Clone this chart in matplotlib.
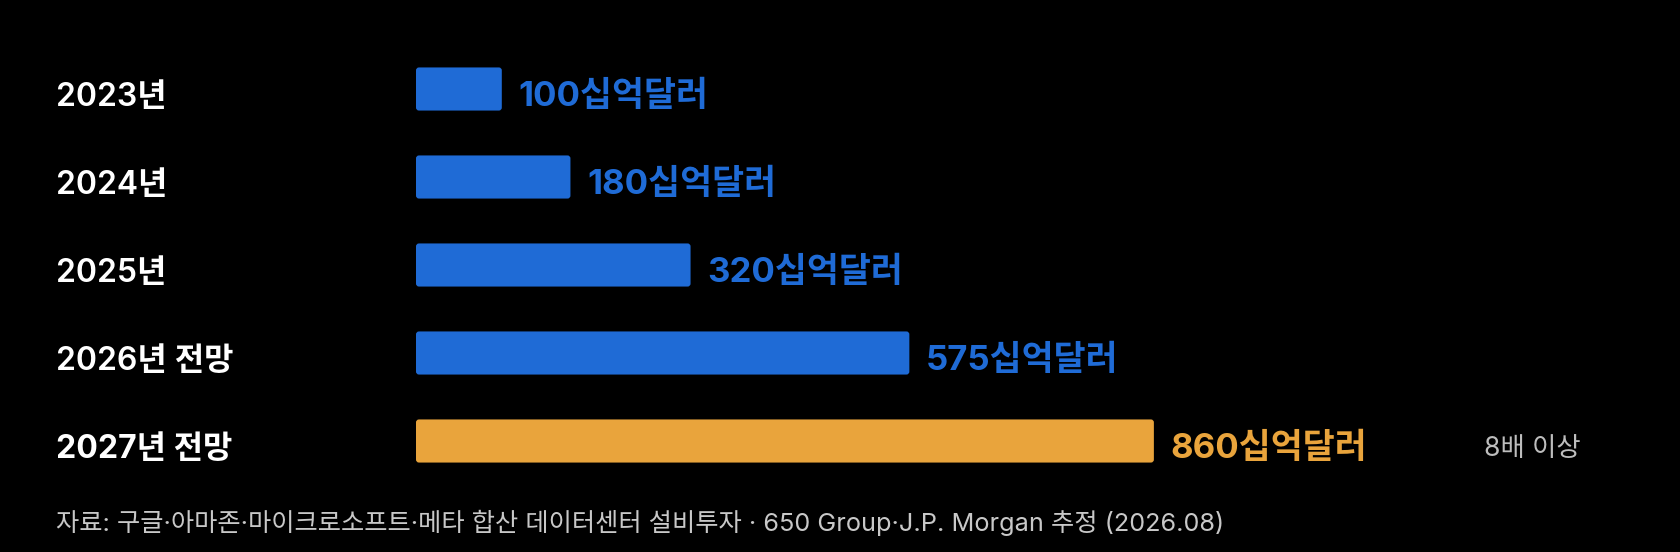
import matplotlib
matplotlib.use("Agg")
import matplotlib.pyplot as plt
from matplotlib.patches import FancyBboxPatch
from matplotlib.transforms import blended_transform_factory

plt.rcParams['font.family'] = ['Inter', 'Noto Sans CJK KR', 'DejaVu Sans']

# data
years = ['2023년', '2024년', '2025년', '2026년 전망', '2027년 전망']
capex = [100, 180, 320, 575, 860]  # 십억달러
value_labels = ['100십억달러', '180십억달러', '320십억달러', '575십억달러', '860십억달러']
note = '8배 이상'
source = '자료: 구글·아마존·마이크로소프트·메타 합산 데이터센터 설비투자 · 650 Group·J.P. Morgan 추정 (2026.08)'

blue = '#1f6bd6'
orange = '#e9a43c'
colors = [blue, blue, blue, blue, orange]

fig = plt.figure(figsize=(16.8, 5.52), dpi=100, facecolor='black')
ax = fig.add_axes([416 / 1680, 0, 1 - 416 / 1680, 1])
ax.set_facecolor('black')

px_x = 0.858  # px per unit on x
px_y = 88     # px per category step

pos = list(range(len(years)))
bars = ax.barh(pos, capex, height=0.49, color=colors)

# swap the square bars for slightly rounded ones
for b in bars:
    rb = FancyBboxPatch((b.get_x(), b.get_y()), b.get_width(), b.get_height(),
                        boxstyle='round,pad=0,rounding_size=%f' % (3 / px_x),
                        mutation_aspect=px_x / px_y,
                        facecolor=b.get_facecolor(), edgecolor='none')
    b.set_visible(False)
    ax.add_patch(rb)

ax.set_xlim(0, 1264 / px_x)
ax.set_ylim(4 + 111 / px_y, -89 / px_y)
ax.axis('off')

# value labels next to each bar
for p, v, lab, c in zip(pos, capex, value_labels, colors):
    ax.annotate(lab, (v, p), xytext=(12, -5.5), textcoords='offset points',
                va='center', ha='left', color=c, fontsize=25, fontweight='bold')

# category labels on the left
trans = blended_transform_factory(fig.transFigure, ax.transData)
for p, y in zip(pos, years):
    w = 'bold' if p == len(years) - 1 else 'semibold'
    ax.annotate(y, (56 / 1680, p), xycoords=trans, xytext=(0, -6),
                textcoords='offset points', va='center', ha='left',
                color='white', fontsize=23, fontweight=w)

ax.annotate(note, (1484 / 1680, pos[-1]), xycoords=trans, xytext=(0, -5.5),
            textcoords='offset points', va='center', ha='left',
            color='#bdbdbd', fontsize=19)

fig.text(56 / 1680, 1 - 523 / 552, source, va='center', ha='left',
         color='#c8c8c8', fontsize=18.2)

fig.savefig('out.png', dpi=100, facecolor='black')
